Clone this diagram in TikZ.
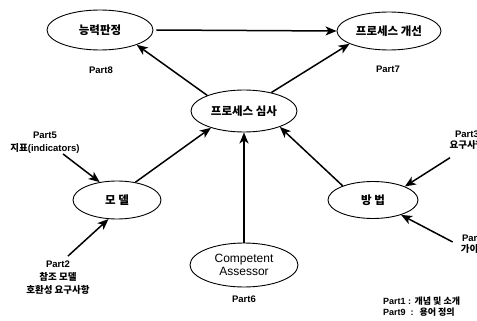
\documentclass[tikz,border=0pt]{standalone}
\usepackage{fontspec}
\setmainfont{Liberation Sans}
\newfontfamily\kr{Noto Sans CJK KR}
\newcommand\hk[1]{{\kr\bfseries #1}}
\usetikzlibrary{shapes.geometric,arrows.meta}
\begin{document}
\begin{tikzpicture}[x=1pt,y=-1pt,
  ell/.style={draw, ellipse, line width=0.9pt, inner sep=0pt, font=\fontsize{11.5}{12}\selectfont},
  arr/.style={line width=1.5pt, -{Stealth[length=11pt,width=9pt,inset=3pt]}},
  lbl/.style={font=\fontsize{9.5}{13}\selectfont\bfseries, align=center, inner sep=0pt},
  lbls/.style={lbl, font=\fontsize{9.5}{11.5}\selectfont\bfseries}]
\useasboundingbox (0,0) rectangle (477,321);
\clip (0,0) rectangle (477,321);
\node[ell, minimum width=106pt, minimum height=40pt] (nung) at (100,30) {\hk{능력판정}};
\node[ell, minimum width=104pt, minimum height=38pt] (gae) at (389,31) {\hk{프로세스 개선}};
\node[ell, minimum width=106pt, minimum height=42pt] (sim) at (244,111) {\hk{프로세스 심사}};
\node[ell, minimum width=88pt, minimum height=38pt] (mod) at (117,200) {\hk{모 델}};
\node[ell, minimum width=90pt, minimum height=37pt] (bang) at (373,200) {\hk{방 법}};
\node[ell, minimum width=108pt, minimum height=44pt, align=center, font=\fontsize{12}{12.5}\selectfont] (comp) at (244,265) {Competent\\Assessor};
\node[lbl] (p8) at (101,70) {Part8};
\node[lbl] (p7) at (388,69) {Part7};
\node[lbl] (p6) at (244,299) {Part6};
\node[lbl] (p5) at (45,143) {Part5\\\hk{지표}(indicators)};
\node[lbl] (p2) at (58,278) {Part2\\\hk{참조 모델}\\\hk{호환성 요구사항}};
\node[lbls] (p3) at (467,140) {Part3\\\hk{요구사항}};
\node[lbls] (p4) at (474,244) {Part4\\\hk{가이드}};
\node[lbls, align=left, anchor=west, font=\fontsize{9}{11}\selectfont\bfseries] (leg) at (383,307) {Part1 : \hk{개념 및 소개}\\Part9 \ : \ \hk{용어 정의}};
\draw[arr] ([xshift=3pt]nung.east) -- (gae.west);
\draw[arr] (sim.157) -- (nung.-22);
\draw[arr] (sim.34) -- (gae.-162);
\draw[arr] (mod.44) -- (sim.-153);
\draw[arr] (bang.155) -- (sim.-24);
\draw[arr] (comp.north) -- (sim.south);
\draw[arr] ([xshift=18pt]p5.south) -- (mod.134);
\draw[arr] ([xshift=10pt,yshift=5pt]p2.north) -- (mod.-114);
\draw[arr] ([xshift=-17pt,yshift=-8pt]p3.south) -- (bang.23);
\draw[arr] ([xshift=-8pt,yshift=2pt]p4.west) -- (bang.-28);
\end{tikzpicture}
\end{document}
